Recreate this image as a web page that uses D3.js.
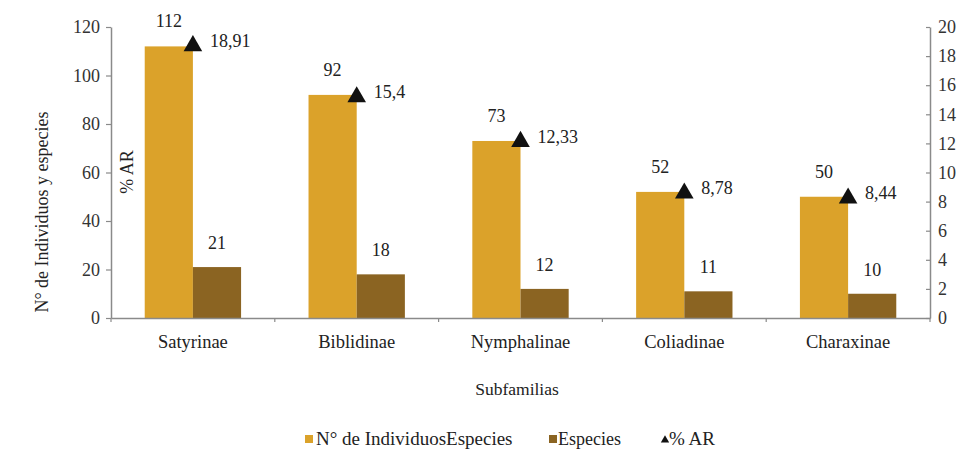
<!DOCTYPE html>
<html>
<head>
<meta charset="utf-8">
<script src="https://cdn.jsdelivr.net/npm/d3@7"></script>
<style>
  html, body { margin: 0; padding: 0; background: #fff; }
</style>
</head>
<body>
<svg id="chart" width="970" height="458"></svg>
<script>
// Subfamily counts and relative abundance
const categories = ["Satyrinae", "Biblidinae", "Nymphalinae", "Coliadinae", "Charaxinae"];
const individuos = [112, 92, 73, 52, 50];
const especies = [21, 18, 12, 11, 10];
const abundancia = [18.91, 15.4, 12.33, 8.78, 8.44];
const leftTicks = [0, 20, 40, 60, 80, 100, 120];
const rightTicks = [0, 2, 4, 6, 8, 10, 12, 14, 16, 18, 20];
const seriesNames = ["N° de IndividuosEspecies", "Especies", "% AR"];

const FONT = "'Liberation Serif', 'DejaVu Serif', 'Times New Roman', serif";
const colors = { ind: "#DBA22A", esp: "#8B6422", tri: "#111", axis: "#8a8a8a" };

const svg = d3.select("#chart").style("font-family", FONT);
const m = { left: 111, right: 930, top: 27, bottom: 318 };

const x = d3.scaleBand().domain(categories).range([m.left, m.right]).paddingInner(0).paddingOuter(0);
const inner = d3.scaleBand().domain(["ind", "esp"]).range([0, x.bandwidth()]).paddingInner(0).paddingOuter(0.7);
const yL = d3.scaleLinear().domain([0, 120]).range([m.bottom, m.top]);
const yR = d3.scaleLinear().domain([0, 20]).range([m.bottom, m.top]);

const fmt = v => String(v).replace(".", ",");
const txt = (sel, size) => sel.attr("font-family", FONT).style("font-family", FONT)
  .attr("font-size", size).attr("fill", "#222");

// Bars with value labels
const g = svg.append("g");
categories.forEach((c, i) => {
  const x0 = x(c);
  g.append("rect").attr("x", x0 + inner("ind")).attr("y", yL(individuos[i]))
    .attr("width", inner.bandwidth()).attr("height", yL(0) - yL(individuos[i])).attr("fill", colors.ind);
  g.append("rect").attr("x", x0 + inner("esp")).attr("y", yL(especies[i]))
    .attr("width", inner.bandwidth()).attr("height", yL(0) - yL(especies[i])).attr("fill", colors.esp);
  txt(g.append("text"), 18).attr("x", x0 + inner("ind") + inner.bandwidth() / 2).attr("y", yL(individuos[i]) - 19)
    .attr("text-anchor", "middle").text(individuos[i]);
  txt(g.append("text"), 18).attr("x", x0 + inner("esp") + inner.bandwidth() / 2).attr("y", yL(especies[i]) - 18)
    .attr("text-anchor", "middle").text(especies[i]);
});

// Axes
function styleAxis(sel, size) {
  sel.attr("font-family", FONT);
  sel.selectAll("path.domain").attr("stroke", colors.axis).attr("stroke-width", 1.5);
  sel.selectAll(".tick line").attr("stroke", colors.axis).attr("stroke-width", 1.2);
  txt(sel.selectAll(".tick text"), size).attr("fill", "#333");
}

const axL = svg.append("g").attr("transform", `translate(${m.left},0)`)
  .call(d3.axisLeft(yL).tickValues(leftTicks).tickSize(5).tickSizeOuter(0).tickPadding(6));
styleAxis(axL, 18);

const axR = svg.append("g").attr("transform", `translate(${m.right},0)`)
  .call(d3.axisRight(yR).tickValues(rightTicks).tickSize(-4).tickSizeOuter(0).tickPadding(8));
styleAxis(axR, 18);

// Category axis with ticks at band boundaries
const axB = svg.append("g").attr("transform", `translate(0,${m.bottom})`)
  .call(d3.axisBottom(x).tickSize(0).tickPadding(17));
styleAxis(axB, 18.5);
axB.selectAll(".tick text").attr("fill", "#222");
const bounds = categories.map(c => x(c)).concat([x.range()[1]]);
axB.selectAll("line.bound").data(bounds).enter().append("line")
  .attr("x1", d => d).attr("x2", d => d).attr("y1", 0).attr("y2", 4)
  .attr("stroke", colors.axis).attr("stroke-width", 1.2);

// Triangle markers for % AR
const tri = d3.symbol().type(d3.symbolTriangle).size(150);
categories.forEach((c, i) => {
  const cx = x(c) + x.bandwidth() / 2;
  const cy = yR(abundancia[i]) + 3;
  svg.append("path").attr("d", tri).attr("transform", `translate(${cx},${cy})`).attr("fill", colors.tri);
  txt(svg.append("text"), 18).attr("x", cx + 17).attr("y", cy + 1).text(fmt(abundancia[i]));
});

// Axis titles
txt(svg.append("text"), 18).attr("transform", `translate(48,212) rotate(-90)`).attr("text-anchor", "middle")
  .text("N° de Individuos y especies");
txt(svg.append("text"), 18).attr("transform", `translate(133,172) rotate(-90)`).attr("text-anchor", "middle")
  .text("% AR");
txt(svg.append("text"), 17.5).attr("x", 517).attr("y", 395).attr("text-anchor", "middle")
  .text("Subfamilias");

// Legend
const leg = svg.append("g").attr("transform", "translate(0,439)");
const items = [
  { name: seriesNames[0], x: 305, tx: 316, size: 19, kind: "rect", color: colors.ind },
  { name: seriesNames[1], x: 549, tx: 558, size: 18, kind: "rect", color: colors.esp },
  { name: seriesNames[2], x: 661, tx: 669, size: 19, kind: "tri", color: colors.tri }
];
items.forEach(it => {
  if (it.kind === "rect") {
    leg.append("rect").attr("x", it.x).attr("y", -4).attr("width", 8).attr("height", 8).attr("fill", it.color);
  } else {
    leg.append("path").attr("d", d3.symbol().type(d3.symbolTriangle).size(30))
      .attr("transform", `translate(${it.x + 4},1)`).attr("fill", it.color);
  }
  txt(leg.append("text"), it.size).attr("x", it.tx).attr("y", 6).text(it.name);
});
</script>
</body>
</html>
